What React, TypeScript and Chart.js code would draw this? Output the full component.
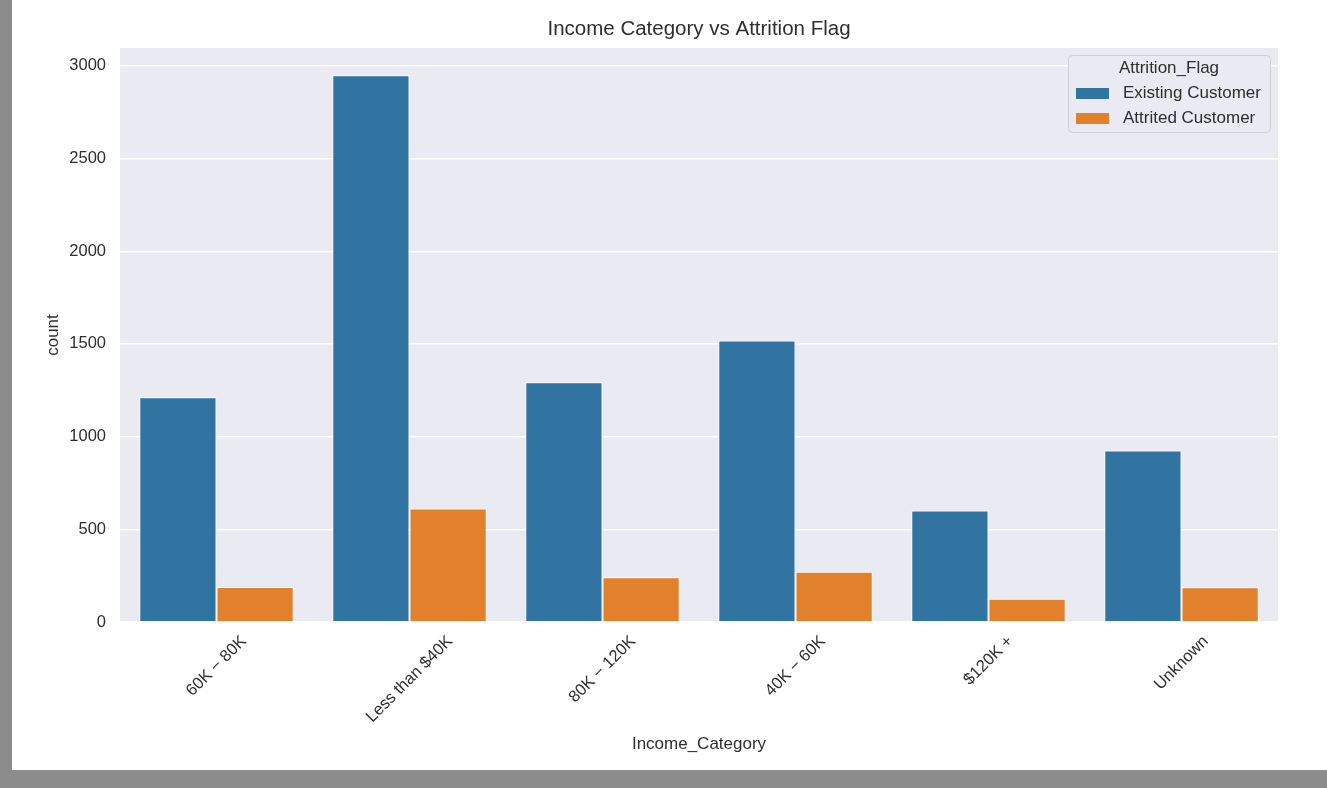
import React, { useEffect, useRef } from "react";
import { Chart, registerables } from "chart.js";

Chart.register(...registerables);

const categories = ["60K − 80K", "Less than $40K", "80K − 120K", "40K − 60K", "$120K +", "Unknown"];
const existingCustomer = [1213, 2949, 1293, 1519, 601, 925];
const attritedCustomer = [189, 612, 242, 271, 126, 187];
const yTicks = [0, 500, 1000, 1500, 2000, 2500, 3000];
const seriesNames = ["Existing Customer", "Attrited Customer"];
const seriesColors = ["#3274A1", "#E1812C"];
const chartTitle = "Income Category vs Attrition Flag";
const xAxisTitle = "Income_Category";
const yAxisTitle = "count";
const legendTitle = "Attrition_Flag";

const FONT = '"Liberation Sans", Arial, Helvetica, sans-serif';
const TEXT = "#2e2e2e";
const PLOT_BG = "#EAEAF2";

const yMax = Math.max(...existingCustomer, ...attritedCustomer) * 1.05;

const decorPlugin = {
  id: "decor",
  beforeDraw(chart: any) {
    const { ctx, chartArea: a } = chart;
    ctx.save();
    ctx.fillStyle = PLOT_BG;
    ctx.fillRect(a.left, a.top, a.right - a.left, a.bottom - a.top);
    ctx.restore();
  },
  afterDraw(chart: any) {
    const { ctx, chartArea: a } = chart;
    const xs = chart.scales.x;
    const cx = (a.left + a.right) / 2;
    ctx.save();
    ctx.fillStyle = TEXT;

    // title
    ctx.font = `20.5px ${FONT}`;
    ctx.textAlign = "center";
    ctx.textBaseline = "middle";
    ctx.fillText(chartTitle, cx, a.top - 19);

    // x tick labels, rotated 45° and centred on the tick (matplotlib style)
    const fs = 16.5;
    ctx.font = `${fs}px ${FONT}`;
    categories.forEach((label, i) => {
      const px = xs.getPixelForValue(i);
      const w = ctx.measureText(label).width;
      const h = fs * 1.15;
      const bb = (w + h) * Math.SQRT1_2;
      const cy = a.bottom + 10 + bb / 2;
      ctx.save();
      ctx.translate(px, cy);
      ctx.rotate(-Math.PI / 4);
      ctx.textAlign = "center";
      ctx.textBaseline = "middle";
      ctx.fillText(label, 0, 0);
      ctx.restore();
    });

    // axis titles
    ctx.font = `17px ${FONT}`;
    ctx.textAlign = "center";
    ctx.textBaseline = "middle";
    ctx.fillText(xAxisTitle, cx, a.bottom + 122);
    ctx.save();
    ctx.translate(a.left - 67, (a.top + a.bottom) / 2);
    ctx.rotate(-Math.PI / 2);
    ctx.fillText(yAxisTitle, 0, 0);
    ctx.restore();

    // legend
    const bw = 202;
    const bh = 77;
    const bx = a.right - 8 - bw;
    const by = a.top + 7;
    ctx.beginPath();
    if (ctx.roundRect) ctx.roundRect(bx + 0.5, by + 0.5, bw, bh, 4);
    else ctx.rect(bx + 0.5, by + 0.5, bw, bh);
    ctx.fillStyle = PLOT_BG;
    ctx.fill();
    ctx.strokeStyle = "#cfcfd6";
    ctx.lineWidth = 1;
    ctx.stroke();

    ctx.fillStyle = TEXT;
    ctx.font = `17px ${FONT}`;
    ctx.textAlign = "center";
    ctx.fillText(legendTitle, bx + bw / 2, by + 13);
    seriesNames.forEach((name, i) => {
      const ry = by + 38 + i * 25;
      ctx.fillStyle = seriesColors[i];
      ctx.fillRect(bx + 8, ry - 5, 33, 11);
      ctx.fillStyle = TEXT;
      ctx.textAlign = "left";
      ctx.fillText(name, bx + 55, ry);
    });
    ctx.restore();
  },
};

export default function App() {
  const ref = useRef<HTMLCanvasElement | null>(null);

  useEffect(() => {
    if (!ref.current) return;
    const chart = new Chart(ref.current, {
      type: "bar",
      data: {
        labels: categories,
        datasets: [
          {
            label: seriesNames[0],
            data: existingCustomer,
            backgroundColor: seriesColors[0],
            borderColor: "#ffffff",
            borderWidth: 1,
            categoryPercentage: 0.8,
            barPercentage: 1.0,
          },
          {
            label: seriesNames[1],
            data: attritedCustomer,
            backgroundColor: seriesColors[1],
            borderColor: "#ffffff",
            borderWidth: 1,
            categoryPercentage: 0.8,
            barPercentage: 1.0,
          },
        ],
      },
      options: {
        animation: false,
        responsive: false,
        layout: { padding: { top: 48, right: 49, left: 0, bottom: 0 } },
        plugins: {
          legend: { display: false },
          title: { display: false },
          tooltip: { enabled: false },
        },
        scales: {
          x: {
            grid: { display: false },
            border: { display: false },
            ticks: { display: false },
            afterFit: (s: any) => {
              s.height = 148;
            },
          },
          y: {
            min: 0,
            max: yMax,
            grid: { color: "#ffffff", lineWidth: 1.5, drawTicks: false },
            border: { display: false },
            afterBuildTicks: (s: any) => {
              s.ticks = yTicks.map((v) => ({ value: v }));
            },
            ticks: {
              padding: 14,
              color: TEXT,
              font: { family: FONT, size: 16.5 },
              callback: (v: any) => String(v),
            },
            afterFit: (s: any) => {
              s.width = 108;
            },
          },
        },
      },
      plugins: [decorPlugin],
    });
    return () => chart.destroy();
  }, []);

  return (
    <div
      style={{
        position: "fixed",
        left: 0,
        top: 0,
        width: 1327,
        height: 788,
        background: "#8c8c8c",
        overflow: "hidden",
      }}
    >
      <div
        style={{
          position: "absolute",
          left: 12,
          top: 0,
          width: 1315,
          height: 770,
          background: "#ffffff",
        }}
      >
        <canvas ref={ref} width={1315} height={770} style={{ display: "block", width: 1315, height: 770 }} />
      </div>
    </div>
  );
}
